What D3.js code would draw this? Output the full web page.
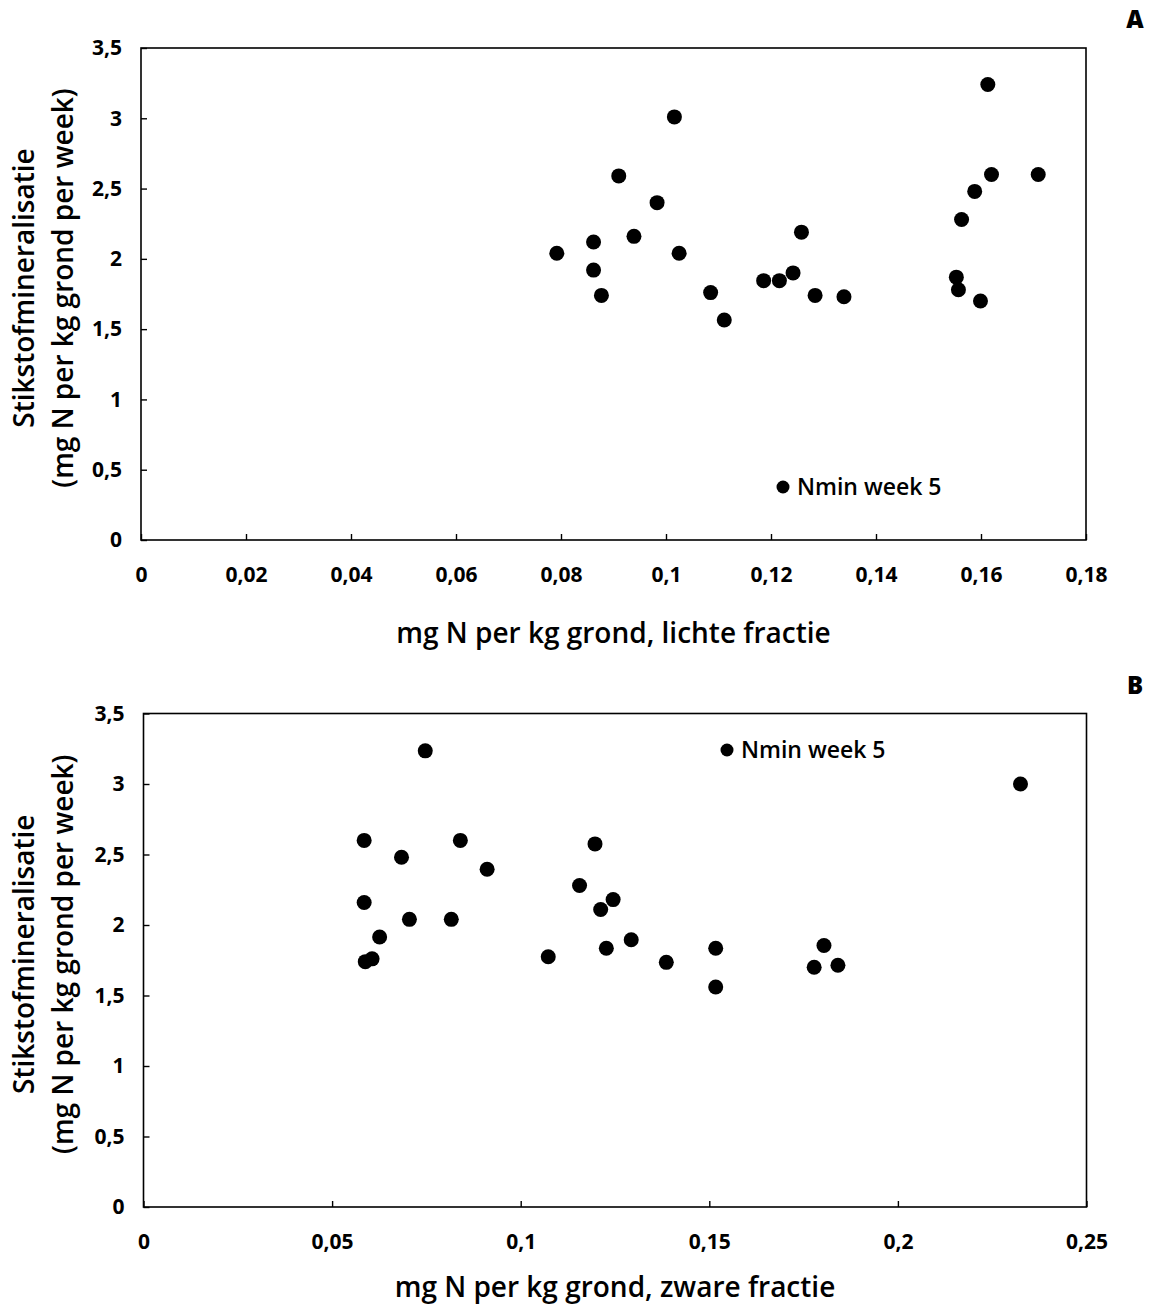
<!DOCTYPE html>
<html>
<head>
<meta charset="utf-8">
<script src="https://cdn.jsdelivr.net/npm/d3@7"></script>
<style>
  html, body { margin: 0; padding: 0; background: #fff; }
  svg { display: block; }
  text { font-family: "Open Sans", "Noto Sans", sans-serif; fill: #000; }
</style>
</head>
<body>
<svg id="chart" width="1161" height="1311"></svg>
<script>
// Light fraction (panel A): N in light fraction vs. weekly N mineralisation
const lightFractionN = [
  0.0792, 0.0862, 0.0862, 0.0877, 0.0910, 0.0939, 0.0983, 0.1016, 0.1025,
  0.1085, 0.1111, 0.1186, 0.1216, 0.1242, 0.1258, 0.1284, 0.1339, 0.1553,
  0.1557, 0.1563, 0.1588, 0.1599, 0.1613, 0.1620, 0.1709
];
const lightFractionMin = [
  2.04, 2.12, 1.92, 1.74, 2.59, 2.16, 2.40, 3.01, 2.04,
  1.76, 1.565, 1.845, 1.845, 1.90, 2.19, 1.74, 1.73, 1.87,
  1.78, 2.28, 2.48, 1.70, 3.24, 2.60, 2.60
];

// Heavy fraction (panel B)
const heavyFractionN = [
  0.0747, 0.0585, 0.0585, 0.0588, 0.0606, 0.0626, 0.0684, 0.0705, 0.0816,
  0.0840, 0.0911, 0.1073, 0.1156, 0.1197, 0.1212, 0.1245, 0.1227, 0.1293,
  0.1386, 0.1517, 0.1517, 0.1778, 0.1804, 0.1841, 0.2325
];
const heavyFractionMin = [
  3.235, 2.60, 2.16, 1.74, 1.76, 1.915, 2.48, 2.04, 2.04,
  2.60, 2.395, 1.775, 2.28, 2.575, 2.11, 2.18, 1.835, 1.895,
  1.735, 1.835, 1.56, 1.70, 1.855, 1.715, 3.00
];

const xTicksA = [0, 0.02, 0.04, 0.06, 0.08, 0.1, 0.12, 0.14, 0.16, 0.18];
const xTicksB = [0, 0.05, 0.1, 0.15, 0.2, 0.25];
const yTicks = [0, 0.5, 1, 1.5, 2, 2.5, 3, 3.5];

const seriesLabel = "Nmin week 5";
const yTitle1 = "Stikstofmineralisatie";
const yTitle2 = "(mg N per kg grond per week)";
const xTitleA = "mg N per kg grond, lichte fractie";
const xTitleB = "mg N per kg grond, zware fractie";

const nl = d3.formatLocale({ decimal: ",", thousands: ".", grouping: [3], currency: ["", ""] });
const fmt = nl.format("~g");

const svg = d3.select("#chart");

function panel(cfg) {
  const { left, right, top, bottom, xMax, xTicks, xs, ys, xTitle, titleGap, letter, legend } = cfg;
  const x = d3.scaleLinear().domain([0, xMax]).range([left, right]);
  const y = d3.scaleLinear().domain([0, 3.5]).range([bottom, top]);
  const g = svg.append("g");

  // frame
  g.append("rect")
    .attr("x", left).attr("y", top)
    .attr("width", right - left).attr("height", bottom - top)
    .attr("fill", "none").attr("stroke", "#000").attr("stroke-width", 1.6);

  // axes with inward ticks
  const xAxis = g.append("g")
    .attr("transform", `translate(0,${bottom})`)
    .call(d3.axisBottom(x).tickValues(xTicks).tickFormat(fmt).tickSizeInner(-6).tickSizeOuter(0).tickPadding(27));
  const yAxis = g.append("g")
    .attr("transform", `translate(${left},0)`)
    .call(d3.axisLeft(y).tickValues(yTicks).tickFormat(fmt).tickSizeInner(-6).tickSizeOuter(0).tickPadding(19));
  [xAxis, yAxis].forEach(a => {
    a.select(".domain").remove();
    a.selectAll(".tick line").attr("stroke", "#000").attr("stroke-width", 1.4);
    a.selectAll(".tick text")
      .attr("font-family", "'Open Sans', sans-serif")
      .attr("font-size", 21).attr("font-weight", 700).attr("fill", "#000");
  });

  // data points
  g.append("g").selectAll("circle")
    .data(xs.map((v, i) => [v, ys[i]]))
    .join("circle")
    .attr("cx", d => x(d[0]))
    .attr("cy", d => y(d[1]))
    .attr("r", 7.5)
    .attr("fill", "#000");

  // legend
  const lg = g.append("g").attr("transform", `translate(${legend[0]},${legend[1]})`);
  lg.append("circle").attr("cx", 0).attr("cy", 0).attr("r", 6.5).attr("fill", "#000");
  lg.append("text").attr("x", 14).attr("y", 8)
    .attr("font-size", 23).attr("font-weight", 600).text(seriesLabel);

  // axis titles
  g.append("text")
    .attr("x", (left + right) / 2).attr("y", bottom + titleGap)
    .attr("text-anchor", "middle").attr("font-size", 28).attr("font-weight", 600)
    .text(xTitle);
  const cy = (top + bottom) / 2 - 6;
  g.append("text")
    .attr("transform", `translate(34,${cy}) rotate(-90)`)
    .attr("text-anchor", "middle").attr("font-size", 28).attr("font-weight", 600)
    .text(yTitle1);
  g.append("text")
    .attr("transform", `translate(73,${cy}) rotate(-90)`)
    .attr("text-anchor", "middle").attr("font-size", 28).attr("font-weight", 600)
    .text(yTitle2);

  // panel letter
  g.append("text")
    .attr("x", 1135).attr("y", top - 20)
    .attr("text-anchor", "middle").attr("font-size", 24).attr("font-weight", 800)
    .text(letter);
}

panel({
  left: 141, right: 1086, top: 48, bottom: 540, xMax: 0.18, xTicks: xTicksA,
  xs: lightFractionN, ys: lightFractionMin, xTitle: xTitleA, titleGap: 103, letter: "A",
  legend: [783, 487]
});

panel({
  left: 143.5, right: 1086.5, top: 713.5, bottom: 1207, xMax: 0.25, xTicks: xTicksB,
  xs: heavyFractionN, ys: heavyFractionMin, xTitle: xTitleB, titleGap: 90, letter: "B",
  legend: [727, 750]
});
</script>
</body>
</html>
